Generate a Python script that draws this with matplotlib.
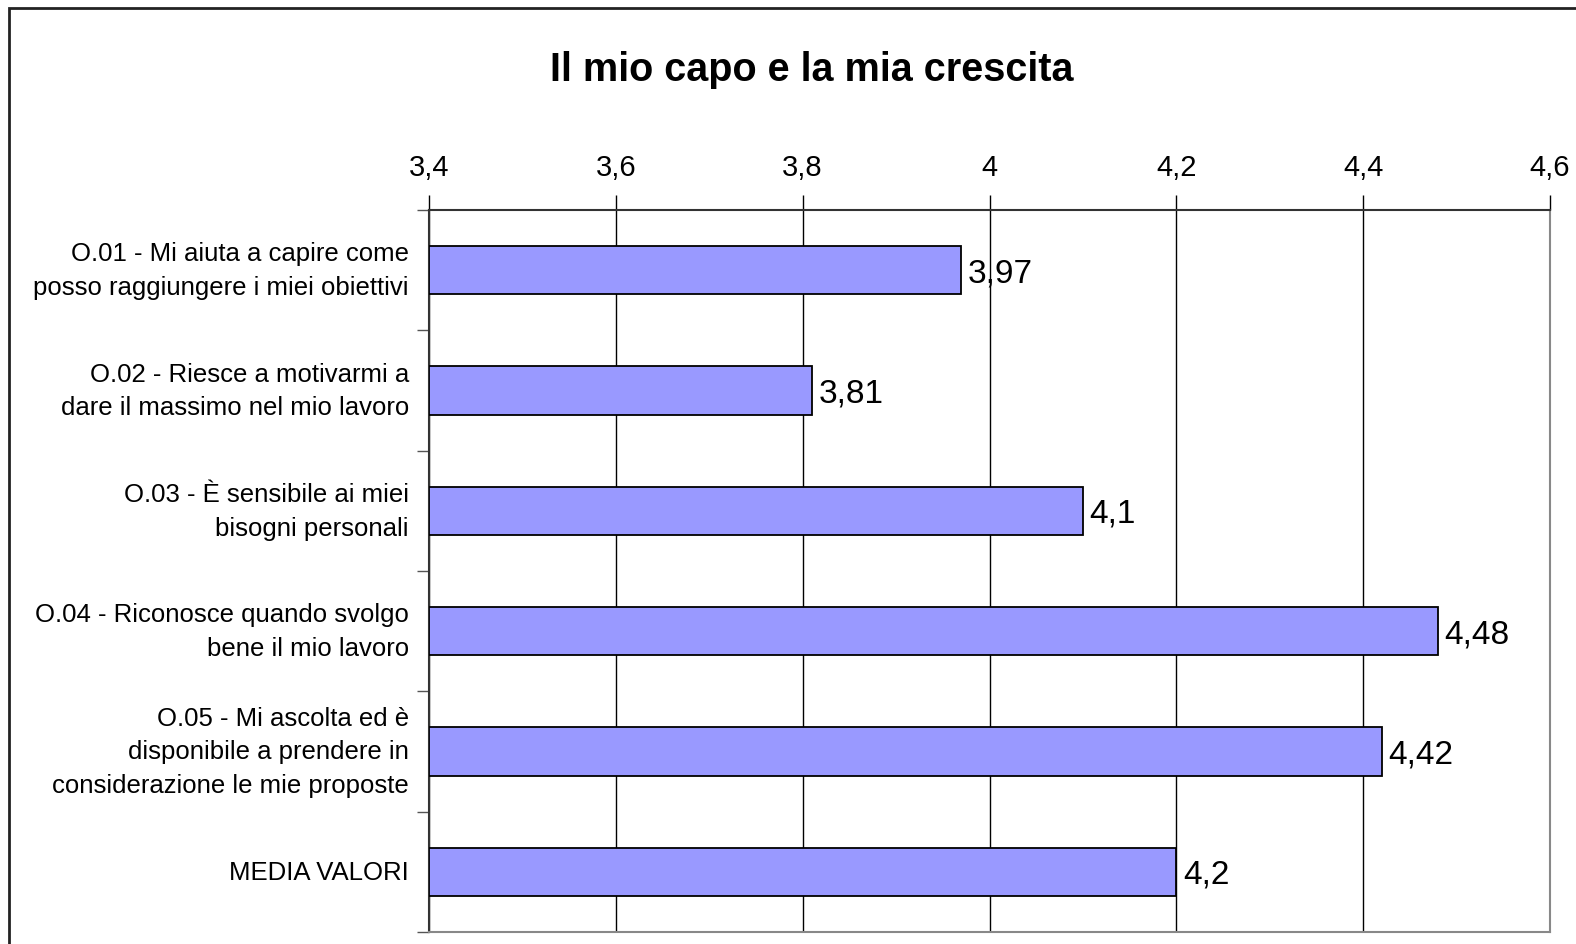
import matplotlib
matplotlib.use("Agg")
import matplotlib.pyplot as plt
from matplotlib.patches import Rectangle

plt.rcParams['font.family'] = ['Liberation Sans', 'DejaVu Sans']

# dati
categorie = [
    "O.01 - Mi aiuta a capire come\nposso raggiungere i miei obiettivi",
    "O.02 - Riesce a motivarmi a\ndare il massimo nel mio lavoro",
    "O.03 - È sensibile ai miei\nbisogni personali",
    "O.04 - Riconosce quando svolgo\nbene il mio lavoro",
    "O.05 - Mi ascolta ed è\ndisponibile a prendere in\nconsiderazione le mie proposte",
    "MEDIA VALORI",
]
valori = [3.97, 3.81, 4.1, 4.48, 4.42, 4.2]
tick_x = [3.4, 3.6, 3.8, 4.0, 4.2, 4.4, 4.6]
tick_lab = ["3,4", "3,6", "3,8", "4", "4,2", "4,4", "4,6"]

fig = plt.figure(figsize=(15.76, 9.45), dpi=100)
W, H = 1576, 945
ax = fig.add_axes([429 / W, 1 - 933 / H, (1550 - 429) / W, (933 - 211) / H])

# bordo esterno del grafico
fig.patches.append(Rectangle((8.5 / W, -0.1), 1.2, 1 - 8.5 / H + 0.1,
                             transform=fig.transFigure, fill=False,
                             edgecolor='#222222', linewidth=2))

y = list(range(len(valori)))
base = 3.4
ax.barh(y, [v - base for v in valori], left=base, height=0.4,
        color='#9999FF', edgecolor='black', linewidth=1.3, zorder=3)

for yi, v in zip(y, valori):
    s = ('%g' % v).replace('.', ',')
    ax.text(v + 0.007, yi + 0.02, s, va='center', ha='left', fontsize=24, zorder=4)

ax.set_xlim(3.4, 4.6)
ax.set_ylim(len(valori) - 0.5, -0.5)
ax.xaxis.tick_top()
ax.set_xticks(tick_x)
ax.set_xticklabels(tick_lab, fontsize=21)
ax.tick_params(axis='x', length=11, width=1, pad=10, color='black')
ax.grid(axis='x', color='black', linewidth=1, zorder=0)

# etichette categorie e tacche di separazione
ax.set_yticks([i - 0.5 for i in range(len(valori) + 1)])
ax.set_yticklabels([])
ax.tick_params(axis='y', length=9, width=1, color='#555555')
for yi, c in zip(y, categorie):
    ax.text(-0.018, yi, c, transform=ax.get_yaxis_transform(),
            ha='right', va='center', fontsize=18.5, linespacing=1.5)

ax.spines['top'].set_color('#333333')
ax.spines['left'].set_color('#333333')
ax.spines['bottom'].set_color('#888888')
ax.spines['right'].set_color('#888888')
for sp in ax.spines.values():
    sp.set_linewidth(1.5)

fig.text(812 / W, 1 - 70 / H, "Il mio capo e la mia crescita", ha='center',
         va='center', fontsize=28.5, fontweight='bold')

fig.savefig("out.png", dpi=100)
